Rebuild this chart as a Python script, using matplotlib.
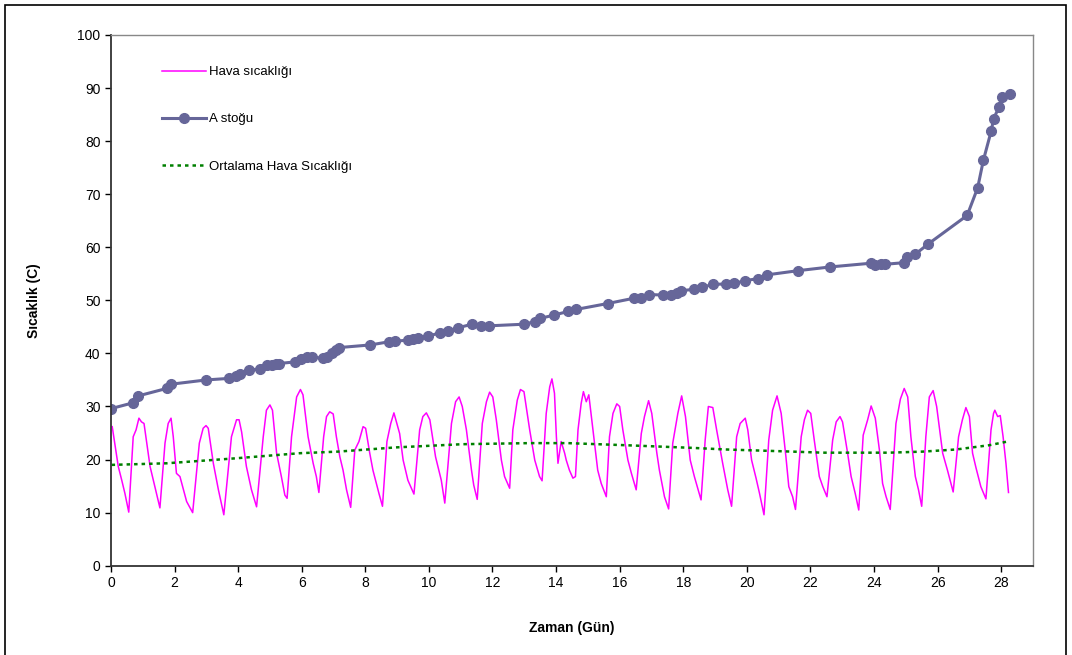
import matplotlib
matplotlib.use("Agg")
import matplotlib.pyplot as plt
from matplotlib.patches import Rectangle

plt.rcParams["font.family"] = ["Liberation Sans", "DejaVu Sans"]

# Hava sıcaklığı (day, °C) - at peaks, troughs and bends
hava_gun = [
    0.04, 0.23, 0.34, 0.44, 0.56, 0.70, 0.79, 0.88, 0.96, 1.04, 1.23, 1.38, 1.54,
    1.70, 1.80, 1.89, 1.96, 2.06, 2.17, 2.38, 2.57, 2.78, 2.90, 2.99, 3.06, 3.22,
    3.38, 3.55, 3.79, 3.95, 4.03, 4.11, 4.26, 4.42, 4.58, 4.79, 4.89, 5.00, 5.08,
    5.21, 5.36, 5.47, 5.54, 5.68, 5.84, 5.96, 6.04, 6.20, 6.36, 6.46, 6.54, 6.69,
    6.78, 6.88, 6.99, 7.09, 7.20, 7.30, 7.41, 7.54, 7.67, 7.80, 7.93, 8.01, 8.14,
    8.24, 8.43, 8.54, 8.68, 8.80, 8.90, 8.98, 9.08, 9.19, 9.34, 9.53, 9.71, 9.81,
    9.92, 10.03, 10.21, 10.39, 10.50, 10.71, 10.84, 10.95, 11.05, 11.18, 11.34,
    11.41, 11.52, 11.68, 11.81, 11.91, 12.01, 12.12, 12.28, 12.38, 12.54, 12.64,
    12.78, 12.88, 12.99, 13.17, 13.33, 13.48, 13.56, 13.69, 13.80, 13.87, 13.95,
    14.01, 14.06, 14.16, 14.27, 14.32, 14.42, 14.53, 14.61, 14.69, 14.79, 14.86,
    14.95, 15.03, 15.16, 15.31, 15.42, 15.58, 15.68, 15.79, 15.91, 16.00, 16.10,
    16.26, 16.37, 16.52, 16.68, 16.78, 16.91, 17.01, 17.17, 17.25, 17.41, 17.54,
    17.67, 17.83, 17.95, 18.07, 18.22, 18.35, 18.56, 18.69, 18.79, 18.93, 19.05,
    19.24, 19.40, 19.52, 19.68, 19.79, 19.95, 20.03, 20.15, 20.29, 20.40, 20.54,
    20.69, 20.81, 20.95, 21.08, 21.23, 21.32, 21.44, 21.53, 21.71, 21.81, 21.91,
    22.01, 22.12, 22.28, 22.39, 22.52, 22.70, 22.81, 22.93, 23.01, 23.17, 23.28,
    23.41, 23.52, 23.66, 23.80, 23.91, 24.04, 24.17, 24.27, 24.38, 24.51, 24.69,
    24.83, 24.95, 25.06, 25.16, 25.30, 25.40, 25.50, 25.63, 25.74, 25.86, 25.97,
    26.16, 26.31, 26.49, 26.66, 26.78, 26.89, 27.00, 27.10, 27.21, 27.36, 27.52,
    27.68, 27.76, 27.80, 27.89, 27.97, 28.06, 28.15, 28.23,
]
hava_sicaklik = [
    26.2, 18.7, 16.1, 13.6, 10.1, 24.3, 25.6, 27.8, 27.1, 26.8, 18.7, 14.9, 10.9,
    23.1, 26.8, 27.8, 24.3, 17.4, 16.8, 12.1, 10.0, 23.1, 25.9, 26.4, 25.9, 19.3,
    14.3, 9.6, 24.3, 27.5, 27.5, 25.2, 18.7, 14.3, 11.1, 24.3, 29.3, 30.3, 29.3,
    21.2, 16.8, 13.3, 12.7, 24.3, 31.8, 33.2, 32.2, 24.3, 19.3, 16.8, 13.8, 24.3,
    28.1, 29.0, 28.6, 24.3, 20.5, 18.0, 14.3, 11.0, 21.8, 23.4, 26.2, 25.9, 21.2,
    18.0, 13.6, 11.2, 23.4, 26.8, 28.8, 27.1, 24.9, 19.9, 16.1, 13.5, 25.6, 28.1,
    28.8, 27.5, 20.5, 16.1, 11.8, 26.8, 30.9, 31.8, 30.0, 25.6, 18.0,
    15.2, 12.5, 26.8, 30.9, 32.7, 31.8, 27.5, 19.9, 16.8, 14.6, 25.6,
    31.2, 33.2, 32.8, 25.6, 19.9, 16.8, 16.0, 28.7, 33.7, 35.2, 32.5,
    24.3, 19.3, 23.4, 21.2, 19.9, 18.0, 16.5, 16.8, 25.6, 30.6, 32.8,
    30.9, 32.2, 25.6, 18.0, 15.5, 13.0, 24.3, 28.7, 30.5, 30.0, 25.6,
    19.9, 17.4, 14.3, 24.9, 28.1, 31.1, 28.7, 21.2, 18.0, 13.0, 10.7,
    23.1, 28.7, 32.0, 28.1, 19.9, 16.8, 12.4, 23.7, 30.0, 29.8, 25.6,
    19.3, 14.3, 11.2, 24.3, 26.8, 27.8, 25.6, 19.9, 16.5, 13.6, 9.6,
    23.7, 29.3, 32.0, 28.7, 20.5, 14.9, 13.0, 10.6, 24.3, 27.5, 29.3,
    28.7, 23.7, 16.8, 14.9, 13.0, 23.7, 27.1, 28.1, 27.1, 21.2, 16.8,
    13.6, 10.5, 24.6, 27.5, 30.1, 27.8, 21.8, 15.5, 13.0, 10.6, 26.8,
    31.4, 33.4, 31.8, 24.3, 16.8, 14.3, 11.2, 24.3, 31.8, 33.0, 30.0,
    21.2, 18.0, 13.9, 24.3, 27.5, 29.8, 28.1, 21.2, 18.4, 14.9, 12.6,
    25.6, 28.7, 29.3, 28.1, 28.3, 24.3, 19.3, 13.8,
]

# A stoğu (day, °C)
stok_gun = [
    0.00, 0.70, 0.86, 1.75, 1.89, 2.99, 3.72, 3.93, 4.06, 4.33, 4.68, 4.92, 5.05,
    5.19, 5.28, 5.79, 5.97, 6.17, 6.32, 6.66, 6.80, 6.95, 7.09, 7.17, 8.16, 8.75,
    8.92, 9.34, 9.50, 9.66, 9.97, 10.34, 10.60, 10.90, 11.35, 11.63, 11.89, 12.98,
    13.35, 13.50, 13.92, 14.37, 14.64, 15.62, 16.45, 16.68, 16.91, 17.36, 17.62,
    17.81, 17.94, 18.34, 18.60, 18.95, 19.35, 19.61, 19.95, 20.34, 20.63, 21.62,
    22.63, 23.91, 24.03, 24.22, 24.35, 24.95, 25.03, 25.30, 25.70, 26.93, 27.26,
    27.44, 27.69, 27.76, 27.93, 28.02, 28.29,
]
stok_sicaklik = [
    29.6, 30.7, 32.0, 33.4, 34.2, 35.0, 35.3, 35.8, 36.1, 36.8, 37.1, 37.8, 37.9,
    38.0, 38.1, 38.4, 38.9, 39.3, 39.3, 39.1, 39.3, 40.0, 40.6, 41.1, 41.6, 42.2,
    42.3, 42.5, 42.7, 43.0, 43.2, 43.9, 44.2, 44.8, 45.5, 45.1, 45.2, 45.5,
    46.0, 46.6, 47.2, 47.9, 48.3, 49.4, 50.4, 50.5, 51.1, 51.0, 51.0,
    51.3, 51.8, 52.1, 52.5, 53.0, 53.1, 53.2, 53.7, 54.1, 54.8, 55.6,
    56.3, 57.0, 56.7, 56.8, 56.8, 57.1, 58.2, 58.7, 60.6, 66.0, 71.2,
    76.4, 82.0, 84.2, 86.4, 88.3, 88.8,
]

# Ortalama hava sıcaklığı (day, °C)
ort_gun = [0.02, 1.75, 3.84, 5.94, 7.14, 8.98, 11.07, 13.17, 14.37, 16.21, 18.30,
           19.35, 21.44, 22.39, 24.48, 25.53, 26.58, 27.62, 28.20]
ort_sicaklik = [19.0, 19.3, 20.2, 21.2, 21.5, 22.3, 22.9, 23.1, 23.1, 22.7, 22.2,
                21.9, 21.5, 21.3, 21.3, 21.5, 21.9, 22.7, 23.4]

fig = plt.figure(figsize=(10.72, 6.55), dpi=100)
ax = fig.add_axes([0.1035, 0.1363, 0.8601, 0.8103])

ax.plot(hava_gun, hava_sicaklik, color="#FF00FF", linewidth=1.1, label="Hava sıcaklığı")
ax.plot(stok_gun, stok_sicaklik, color="#666699", linewidth=2.2, marker="o",
        markersize=7, label="A stoğu")
ax.plot(ort_gun, ort_sicaklik, color="#008000", linewidth=1.8,
        linestyle=(0, (1.4, 1.6)), label="Ortalama Hava Sıcaklığı")

ax.set_xlim(0, 29)
ax.set_ylim(0, 100)
ax.set_xticks(range(0, 29, 2))
ax.set_yticks(range(0, 101, 10))
ax.tick_params(direction="out", length=4, width=1, labelsize=10, colors="black")
for side in ("left", "bottom"):
    ax.spines[side].set_color("#333333")
    ax.spines[side].set_linewidth(1.3)
for side in ("top", "right"):
    ax.spines[side].set_color("#888888")
    ax.spines[side].set_linewidth(1.0)

ax.set_xlabel("Zaman (Gün)", fontsize=10, fontweight="bold", labelpad=22)
ax.set_ylabel("Sıcaklık (C)", fontsize=10, fontweight="bold", labelpad=26)

ax.legend(loc="upper left", bbox_to_anchor=(0.042, 0.964), frameon=False,
          fontsize=9.5, handlelength=3.4, handletextpad=0.2, labelspacing=2.65)

# outer chart border
fig.add_artist(Rectangle((5 / 1072, -0.02), 1061 / 1072, 1 - 5 / 655 + 0.02,
                         transform=fig.transFigure, fill=False,
                         edgecolor="black", linewidth=1.2))

fig.savefig("out.png", dpi=100)
